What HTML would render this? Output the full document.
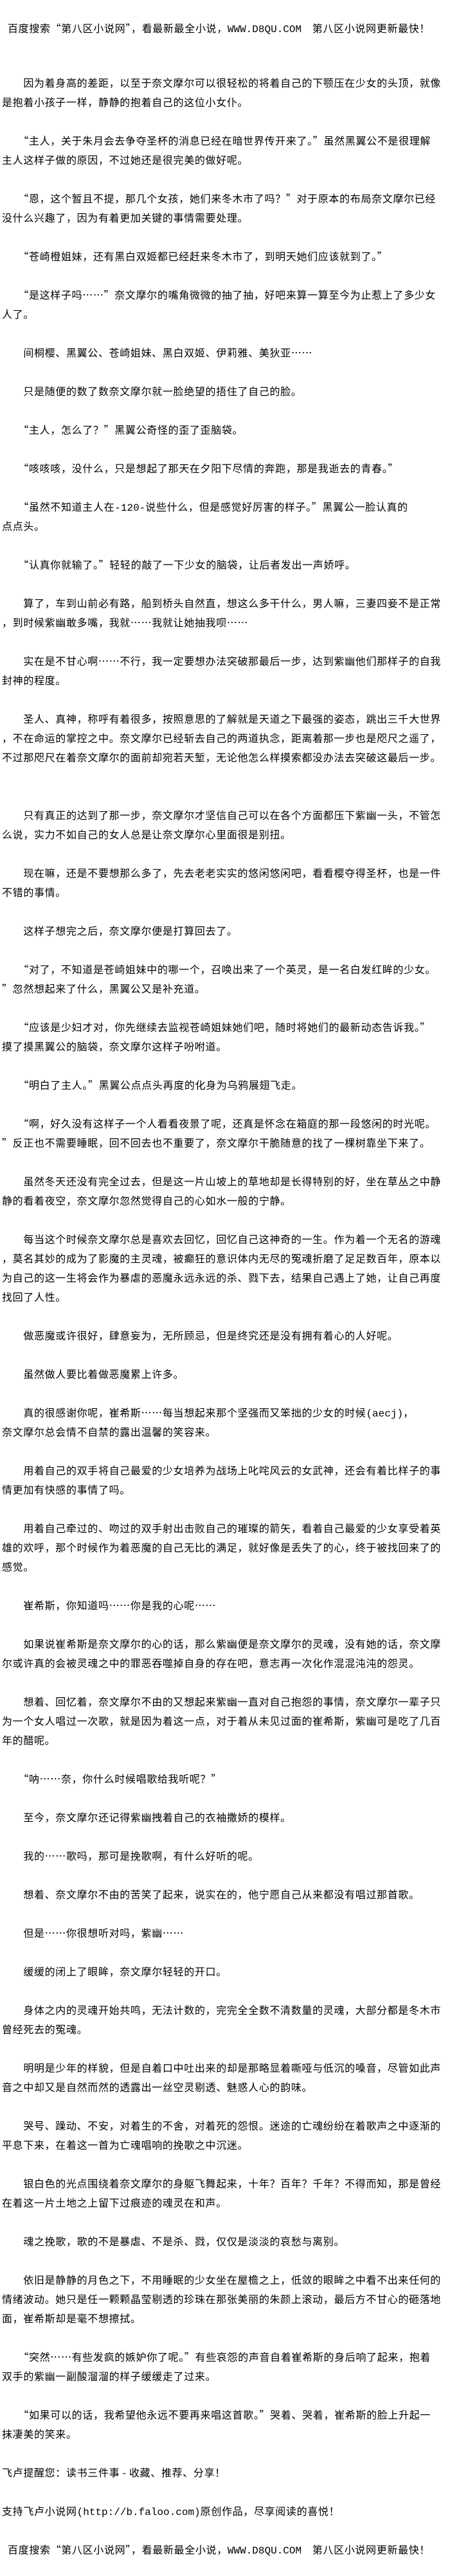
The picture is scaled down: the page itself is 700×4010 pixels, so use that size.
<!DOCTYPE html>
<html><head><meta charset="utf-8">
<style>
html,body{margin:0;padding:0;background:#fff;}
body{width:700px;height:4010px;position:relative;overflow:hidden;color:#000;
font-family:"Noto Sans CJK SC","Liberation Sans",sans-serif;font-size:16px;letter-spacing:0.66px;}
.hd{position:absolute;left:12px;height:30px;line-height:30px;white-space:pre;}
#c{position:absolute;left:3px;top:113px;width:697px;}
#c div{height:30px;line-height:30px;white-space:pre;}
.m{font-family:"Liberation Mono",monospace;letter-spacing:0;}
</style></head><body>
<div class="hd" style="top:28px">百度搜索“第八区小说网”，看最新最全小说，<span class="m">WWW.D8QU.COM</span>　第八区小说网更新最快！</div>
<div id="c">
<div>　　因为着身高的差距，以至于奈文摩尔可以很轻松的将着自己的下颚压在少女的头顶，就像</div>
<div>是抱着小孩子一样，静静的抱着自己的这位小女仆。</div>
<div> </div>
<div>　　“主人，关于朱月会去争夺圣杯的消息已经在暗世界传开来了。”虽然黑翼公不是很理解</div>
<div>主人这样子做的原因，不过她还是很完美的做好呢。</div>
<div> </div>
<div>　　“恩，这个暂且不提，那几个女孩，她们来冬木市了吗？”对于原本的布局奈文摩尔已经</div>
<div>没什么兴趣了，因为有着更加关键的事情需要处理。</div>
<div> </div>
<div>　　“苍崎橙姐妹，还有黑白双姬都已经赶来冬木市了，到明天她们应该就到了。”</div>
<div> </div>
<div>　　“是这样子吗……”奈文摩尔的嘴角微微的抽了抽，好吧来算一算至今为止惹上了多少女</div>
<div>人了。</div>
<div> </div>
<div>　　间桐樱、黑翼公、苍崎姐妹、黑白双姬、伊莉雅、美狄亚……</div>
<div> </div>
<div>　　只是随便的数了数奈文摩尔就一脸绝望的捂住了自己的脸。</div>
<div> </div>
<div>　　“主人，怎么了？”黑翼公奇怪的歪了歪脑袋。</div>
<div> </div>
<div>　　“咳咳咳，没什么，只是想起了那天在夕阳下尽情的奔跑，那是我逝去的青春。”</div>
<div> </div>
<div>　　“虽然不知道主人在<span class="m">-120-</span>说些什么，但是感觉好厉害的样子。”黑翼公一脸认真的</div>
<div>点点头。</div>
<div> </div>
<div>　　“认真你就输了。”轻轻的敲了一下少女的脑袋，让后者发出一声娇呼。</div>
<div> </div>
<div>　　算了，车到山前必有路，船到桥头自然直，想这么多干什么，男人嘛，三妻四妾不是正常</div>
<div>，到时候紫幽敢多嘴，我就……我就让她抽我呗……</div>
<div> </div>
<div>　　实在是不甘心啊……不行，我一定要想办法突破那最后一步，达到紫幽他们那样子的自我</div>
<div>封神的程度。</div>
<div> </div>
<div>　　圣人、真神，称呼有着很多，按照意思的了解就是天道之下最强的姿态，跳出三千大世界</div>
<div>，不在命运的掌控之中。奈文摩尔已经斩去自己的两道执念，距离着那一步也是咫尺之遥了，</div>
<div>不过那咫尺在着奈文摩尔的面前却宛若天堑，无论他怎么样摸索都没办法去突破这最后一步。</div>
<div> </div>
<div> </div>
<div>　　只有真正的达到了那一步，奈文摩尔才坚信自己可以在各个方面都压下紫幽一头，不管怎</div>
<div>么说，实力不如自己的女人总是让奈文摩尔心里面很是别扭。</div>
<div> </div>
<div>　　现在嘛，还是不要想那么多了，先去老老实实的悠闲悠闲吧，看看樱夺得圣杯，也是一件</div>
<div>不错的事情。</div>
<div> </div>
<div>　　这样子想完之后，奈文摩尔便是打算回去了。</div>
<div> </div>
<div>　　“对了，不知道是苍崎姐妹中的哪一个，召唤出来了一个英灵，是一名白发红眸的少女。</div>
<div>”忽然想起来了什么，黑翼公又是补充道。</div>
<div> </div>
<div>　　“应该是少妇才对，你先继续去监视苍崎姐妹她们吧，随时将她们的最新动态告诉我。”</div>
<div>摸了摸黑翼公的脑袋，奈文摩尔这样子吩咐道。</div>
<div> </div>
<div>　　“明白了主人。”黑翼公点点头再度的化身为乌鸦展翅飞走。</div>
<div> </div>
<div>　　“啊，好久没有这样子一个人看看夜景了呢，还真是怀念在箱庭的那一段悠闲的时光呢。</div>
<div>”反正也不需要睡眠，回不回去也不重要了，奈文摩尔干脆随意的找了一棵树靠坐下来了。</div>
<div> </div>
<div>　　虽然冬天还没有完全过去，但是这一片山坡上的草地却是长得特别的好，坐在草丛之中静</div>
<div>静的看着夜空，奈文摩尔忽然觉得自己的心如水一般的宁静。</div>
<div> </div>
<div>　　每当这个时候奈文摩尔总是喜欢去回忆，回忆自己这神奇的一生。作为着一个无名的游魂</div>
<div>，莫名其妙的成为了影魔的主灵魂，被癫狂的意识体内无尽的冤魂折磨了足足数百年，原本以</div>
<div>为自己的这一生将会作为暴虐的恶魔永远永远的杀、戮下去，结果自己遇上了她，让自己再度</div>
<div>找回了人性。</div>
<div> </div>
<div>　　做恶魔或许很好，肆意妄为，无所顾忌，但是终究还是没有拥有着心的人好呢。</div>
<div> </div>
<div>　　虽然做人要比着做恶魔累上许多。</div>
<div> </div>
<div>　　真的很感谢你呢，崔希斯……每当想起来那个坚强而又笨拙的少女的时候<span class="m">(aecj)</span>，</div>
<div>奈文摩尔总会情不自禁的露出温馨的笑容来。</div>
<div> </div>
<div>　　用着自己的双手将自己最爱的少女培养为战场上叱咤风云的女武神，还会有着比样子的事</div>
<div>情更加有快感的事情了吗。</div>
<div> </div>
<div>　　用着自己牵过的、吻过的双手射出击败自己的璀璨的箭矢，看着自己最爱的少女享受着英</div>
<div>雄的欢呼，那个时候作为着恶魔的自己无比的满足，就好像是丢失了的心，终于被找回来了的</div>
<div>感觉。</div>
<div> </div>
<div>　　崔希斯，你知道吗……你是我的心呢……</div>
<div> </div>
<div>　　如果说崔希斯是奈文摩尔的心的话，那么紫幽便是奈文摩尔的灵魂，没有她的话，奈文摩</div>
<div>尔或许真的会被灵魂之中的罪恶吞噬掉自身的存在吧，意志再一次化作混混沌沌的怨灵。</div>
<div> </div>
<div>　　想着、回忆着，奈文摩尔不由的又想起来紫幽一直对自己抱怨的事情，奈文摩尔一辈子只</div>
<div>为一个女人唱过一次歌，就是因为着这一点，对于着从未见过面的崔希斯，紫幽可是吃了几百</div>
<div>年的醋呢。</div>
<div> </div>
<div>　　“呐……奈，你什么时候唱歌给我听呢？”</div>
<div> </div>
<div>　　至今，奈文摩尔还记得紫幽拽着自己的衣袖撒娇的模样。</div>
<div> </div>
<div>　　我的……歌吗，那可是挽歌啊，有什么好听的呢。</div>
<div> </div>
<div>　　想着、奈文摩尔不由的苦笑了起来，说实在的，他宁愿自己从来都没有唱过那首歌。</div>
<div> </div>
<div>　　但是……你很想听对吗，紫幽……</div>
<div> </div>
<div>　　缓缓的闭上了眼眸，奈文摩尔轻轻的开口。</div>
<div> </div>
<div>　　身体之内的灵魂开始共鸣，无法计数的，完完全全数不清数量的灵魂，大部分都是冬木市</div>
<div>曾经死去的冤魂。</div>
<div> </div>
<div>　　明明是少年的样貌，但是自着口中吐出来的却是那略显着嘶哑与低沉的嗓音，尽管如此声</div>
<div>音之中却又是自然而然的透露出一丝空灵剔透、魅惑人心的韵味。</div>
<div> </div>
<div>　　哭号、躁动、不安，对着生的不舍，对着死的怨恨。迷途的亡魂纷纷在着歌声之中逐渐的</div>
<div>平息下来，在着这一首为亡魂唱响的挽歌之中沉迷。</div>
<div> </div>
<div>　　银白色的光点围绕着奈文摩尔的身躯飞舞起来，十年？百年？千年？不得而知，那是曾经</div>
<div>在着这一片土地之上留下过痕迹的魂灵在和声。</div>
<div> </div>
<div>　　魂之挽歌，歌的不是暴虐、不是杀、戮，仅仅是淡淡的哀愁与离别。</div>
<div> </div>
<div>　　依旧是静静的月色之下，不用睡眠的少女坐在屋檐之上，低敛的眼眸之中看不出来任何的</div>
<div>情绪波动。她只是任一颗颗晶莹剔透的珍珠在那张美丽的朱颜上滚动，最后方不甘心的砸落地</div>
<div>面，崔希斯却是毫不想擦拭。</div>
<div> </div>
<div>　　“突然……有些发疯的嫉妒你了呢。”有些哀怨的声音自着崔希斯的身后响了起来，抱着</div>
<div>双手的紫幽一副酸溜溜的样子缓缓走了过来。</div>
<div> </div>
<div>　　“如果可以的话，我希望他永远不要再来唱这首歌。”哭着、哭着，崔希斯的脸上升起一</div>
<div>抹凄美的笑来。</div>
<div> </div>
<div>飞卢提醒您：读书三件事 - 收藏、推荐、分享！</div>
<div> </div>
<div>支持飞卢小说网<span class="m">(http://b.faloo.com)</span>原创作品，尽享阅读的喜悦！</div>
<div> </div>
<div style="padding-left:9px">百度搜索“第八区小说网”，看最新最全小说，<span class="m">WWW.D8QU.COM</span>　第八区小说网更新最快！</div>
</div>
</body></html>
